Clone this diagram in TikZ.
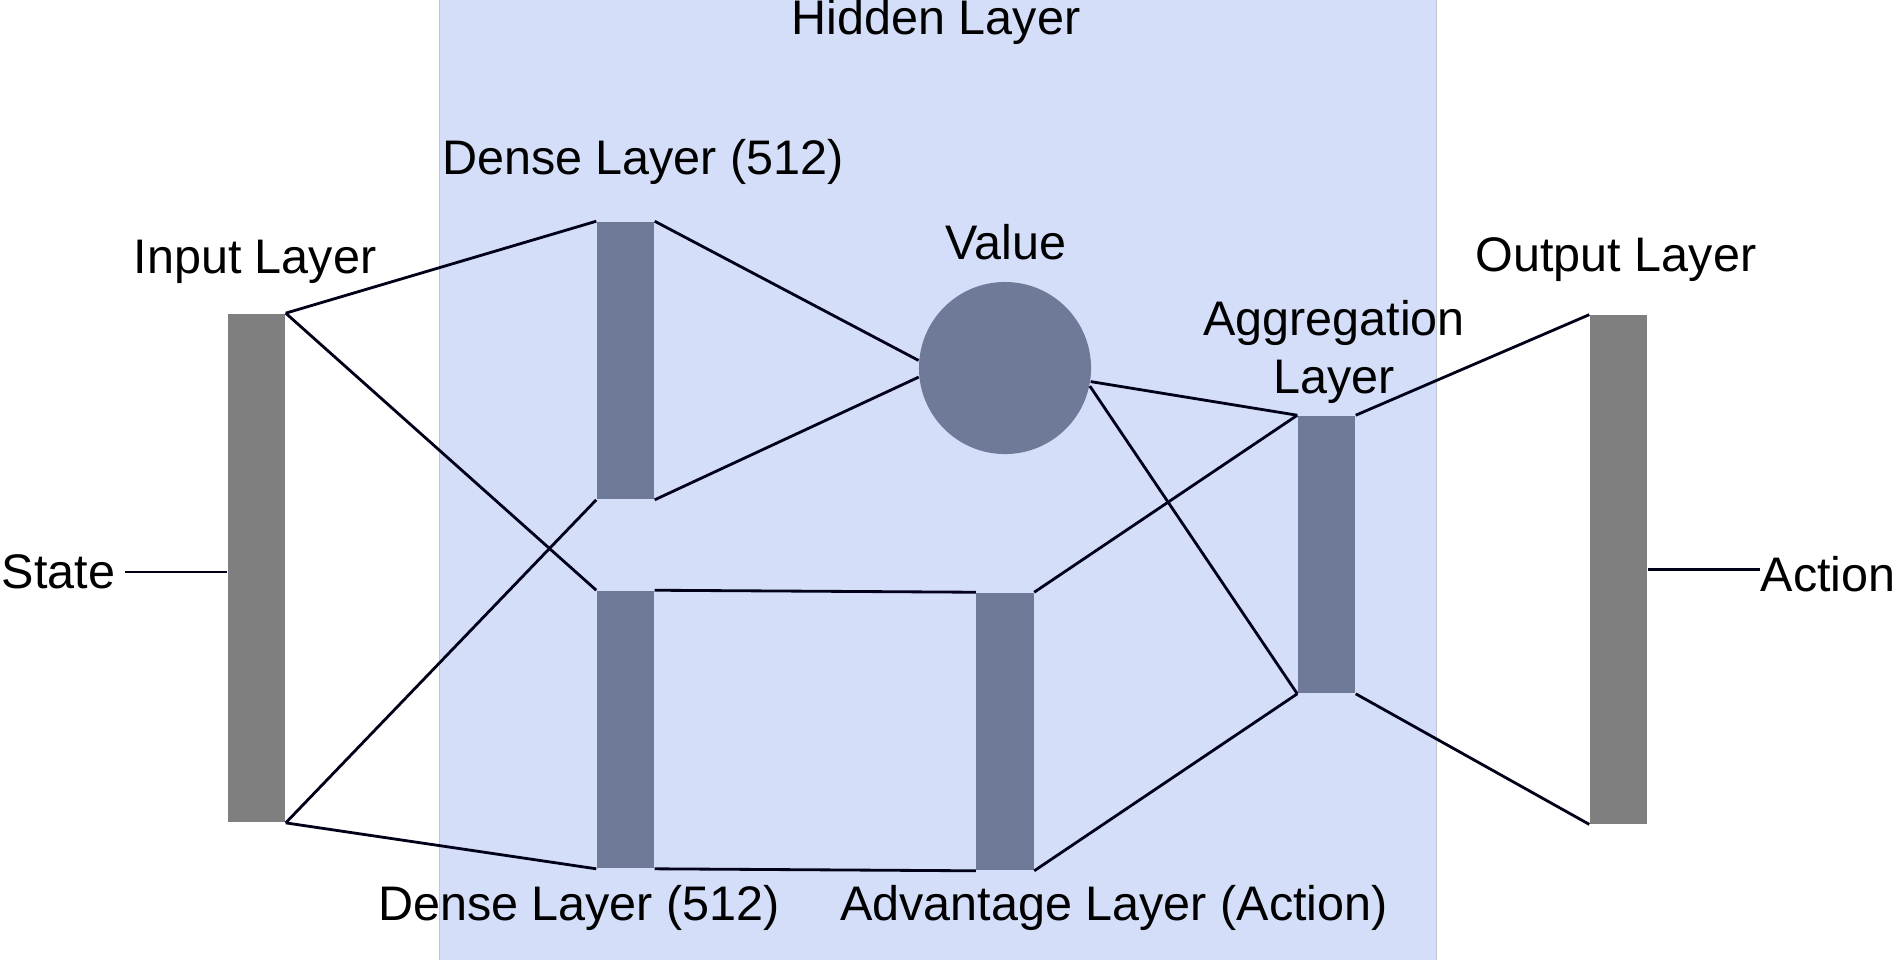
\documentclass[tikz,border=0pt]{standalone}
\usepackage{fontspec}
\setmainfont{Liberation Sans}
\begin{document}
\begin{tikzpicture}[x=0.01cm,y=-0.01cm,
  lbl/.style={inner sep=0pt, font=\fontsize{13.8pt}{16.6pt}\selectfont, align=center},
  iobar/.style={rectangle, fill=barGrey, inner sep=0pt, minimum width=0.57cm, minimum height=5.08cm},
  hbar/.style={rectangle, fill=barSlate, inner sep=0pt, minimum width=0.57cm, minimum height=2.77cm},
  conn/.style={draw=black!90!blue, line width=0.8pt},
  hidbox/.style={rectangle, fill=hidBlue, draw=hidEdge, line width=0.4pt, inner sep=0pt, anchor=north west}
]
\definecolor{barGrey}{HTML}{7F7F7F}
\definecolor{barSlate}{HTML}{6F7A99}
\definecolor{hidBlue}{HTML}{D4DEF9}
\definecolor{hidEdge}{HTML}{BFC5D2}
\useasboundingbox (0,0) rectangle (1903,959);

\node[hidbox, minimum width=9.96cm, minimum height=9.62cm] (hid) at (439,-1) {};

\node[iobar] (in) at (256.5,568) {};
\node[iobar] (out) at (1618.5,569.5) {};
\node[hbar] (dt) at (625.5,360.5) {};
\node[hbar] (db) at (625.5,729.5) {};
\node[hbar] (adv) at (1005,731.5) {};
\node[hbar] (agg) at (1326.5,554.5) {};
\node[circle, fill=barSlate, inner sep=0pt, minimum size=1.72cm] (val) at (1005,368) {};

\node[lbl] (lhid) at (936,22) {Hidden Layer};
\node[lbl] (ldt) at (643,162) {Dense Layer (512)};
\node[lbl] (lin) at (255,262) {Input Layer};
\node[lbl] (lval) at (1006,242) {Value};
\node[lbl] (lout) at (1616,260) {Output Layer};
\node[lbl] (lagg) at (1334,352) {Aggregation\\Layer};
\node[lbl, anchor=east] (lstate) at (116,572) {State};
\node[lbl, anchor=west] (lact) at (1760,574) {Action};
\node[lbl] (ldb) at (579,908) {Dense Layer (512)};
\node[lbl] (ladv) at (1114,908) {Advantage Layer (Action)};

\draw[conn] (lstate.east) ++(9,0) coordinate (s0) -- (s0 -| in.west);
\draw[conn] (out.east) -- (out.east -| lact.west);

\draw[conn] (in.north east) -- (dt.north west);
\draw[conn] (in.north east) -- (db.north west);
\draw[conn] (in.south east) -- (dt.south west);
\draw[conn] (in.south east) -- (db.south west);
\draw[conn] (dt.north east) -- (val.175);
\draw[conn] (dt.south east) -- (val.186);
\draw[conn] (db.north east) -- (adv.north west);
\draw[conn] (db.south east) -- (adv.south west);
\draw[conn] (val.-9) -- (agg.north west);
\draw[conn] (val.-12) -- (agg.south west);
\draw[conn] (adv.north east) -- (agg.north west);
\draw[conn] (adv.south east) -- (agg.south west);
\draw[conn] (agg.north east) -- (out.north west);
\draw[conn] (agg.south east) -- (out.south west);
\end{tikzpicture}
\end{document}
